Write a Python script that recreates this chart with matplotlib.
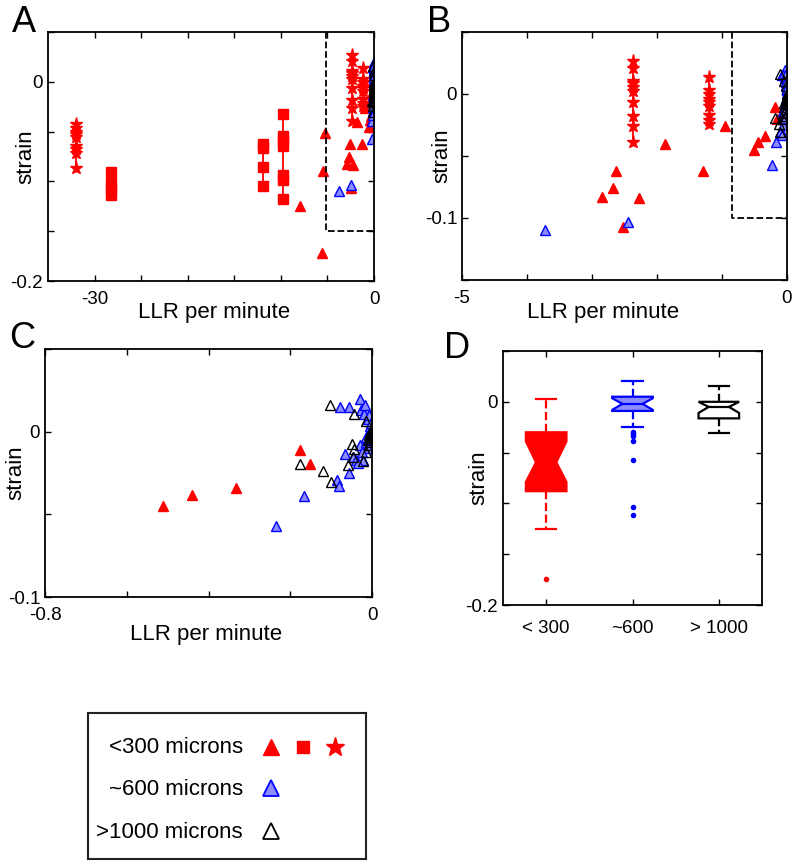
import numpy as np
import matplotlib.pyplot as plt

plt.rcParams['font.family'] = ['Liberation Sans', 'DejaVu Sans']

# ---- data ----
# red stars (<300 microns), one vertical series per recording
star_x = [-32.0, -2.37, -1.2]
star_y = [
    [-0.042, -0.046, -0.050, -0.052, -0.055, -0.064, -0.067, -0.071, -0.087],
    [0.027, 0.021, 0.0107, 0.0085, 0.006, 0.0027, -0.0067, -0.018, -0.026, -0.039],
    [0.014, 0.003, 0.0, -0.004, -0.0067, -0.0093, -0.017, -0.021, -0.0245],
]

# red squares (<300 microns)
square_x = [-28.2, -11.9, -9.8]
square_y = [
    [-0.091, -0.102, -0.107, -0.114],
    [-0.062, -0.066, -0.086, -0.105],
    [-0.032, -0.054, -0.059, -0.064, -0.094, -0.099, -0.118],
]

# red triangles (<300 microns)
red_tri_x = [-7.9, -5.3, -5.5, -5.6, -2.63, -2.67, -2.85, -2.28, -2.52, -1.87,
             -1.30, -0.96, -0.511, -0.44, -0.332, -0.177, -0.152]
red_tri_y = [-0.125, -0.051, -0.090, -0.172, -0.062, -0.076, -0.083, -0.084, -0.107,
             -0.0405, -0.062, -0.026, -0.045, -0.0385, -0.034, -0.0108, -0.0198]

# blue triangles (~600 microns)
blue_x = [-3.73, -2.45, -0.235, -0.167, -0.086, -0.081, -0.056, -0.065, -0.046, -0.030,
          -0.079, -0.056, -0.026, -0.014, -0.020, -0.0098, -0.0057, -0.004, -0.030, -0.015,
          -0.014, -0.040, -0.022, -0.0057, -0.018, -0.008, -0.003, -0.010, -0.025, -0.035]
blue_y = [-0.110, -0.1035, -0.057, -0.039, -0.0295, -0.033, -0.025, -0.0134, -0.0154, 0.0196,
          0.015, 0.015, 0.013, 0.0136, 0.0106, 0.0076, 0.0036, 0.0006, -0.0078, -0.0064,
          -0.0034, -0.0174, -0.017, -0.0044, 0.016, 0.010, 0.005, -0.010, -0.012, -0.019]

# black open triangles (>1000 microns)
black_x = [-0.103, -0.045, -0.014, -0.049, -0.045, -0.177, -0.121, -0.101, -0.059, -0.015,
           -0.022, -0.046, -0.007, -0.004, -0.006, -0.003, -0.008, -0.002, -0.005, -0.010]
black_y = [0.016, 0.0106, 0.0066, -0.0074, -0.0104, -0.0194, -0.0238, -0.0305, -0.0204, -0.0124,
           -0.0178, -0.0154, -0.002, -0.004, -0.006, -0.001, -0.008, -0.003, 0.0, -0.005]

# panel D box summaries
box_labels = ['< 300', '~600', '> 1000']
box_med = [-0.0595, -0.002, -0.005]
box_q1 = [-0.088, -0.009, -0.0163]
box_q3 = [-0.030, 0.005, 0.0]
box_cilo = [-0.079, -0.008, -0.011]
box_cihi = [-0.039, 0.0035, 0.0]
box_whislo = [-0.125, -0.025, -0.031]
box_whishi = [0.003, 0.020, 0.0157]
box_fliers = [[-0.174],
              [-0.0295, -0.032, -0.034, -0.039, -0.057, -0.1035, -0.111],
              []]

legend_labels = ['<300 microns', '~600 microns', '>1000 microns']

BLUE_FILL = (0.55, 0.55, 1.0)


def style_axes(ax, xt, xl, yt, yl, xpad=7, ypad=3.5):
    ax.set_xticks(xt)
    ax.set_xticklabels(xl)
    ax.set_yticks(yt)
    ax.set_yticklabels(yl)
    ax.tick_params(direction='in', top=True, right=True, length=4, width=1,
                   labelsize=13.5)
    ax.tick_params(axis='x', pad=xpad)
    ax.tick_params(axis='y', pad=ypad)
    for s in ax.spines.values():
        s.set_linewidth(1.3)


def draw_scatter(ax):
    for x, ys in zip(star_x, star_y):
        ax.plot([x] * len(ys), ys, '-*', color='r', ms=9.5, lw=1.3)
    for x, ys in zip(square_x, square_y):
        ax.plot([x] * len(ys), ys, '-s', color='r', ms=6.5, lw=1.3)
    ax.plot(red_tri_x, red_tri_y, '^', color='r', ms=7.5, ls='none')
    ax.plot(blue_x, blue_y, '^', mfc=BLUE_FILL, mec='b', ms=7, mew=1, ls='none')
    ax.plot(black_x, black_y, '^', mfc='none', mec='k', ms=7, mew=1, ls='none')


fig = plt.figure(figsize=(8, 8.65), dpi=100)

# ---- A ----
ax_a = fig.add_axes([48 / 800, 1 - 281 / 865, 326 / 800, 249 / 865])
draw_scatter(ax_a)
ax_a.plot([-5.1, -5.1, 0], [0.05, -0.15, -0.15], 'k--', lw=1.3)
ax_a.set_xlim(-35, 0)
ax_a.set_ylim(-0.2, 0.05)
style_axes(ax_a, [-30, -25, -20, -15, -10, -5, 0], ['-30', '', '', '', '', '', '0'],
           [-0.2, -0.15, -0.1, -0.05, 0, 0.05], ['-0.2', '', '', '', '0', ''])
ax_a.set_xlabel('LLR per minute', fontsize=16)
ax_a.set_ylabel('strain', fontsize=16)
ax_a.xaxis.set_label_coords(0.508, -0.084)
ax_a.yaxis.set_label_coords(-0.035, 0.5)

# ---- B ----
ax_b = fig.add_axes([462 / 800, 1 - 280 / 865, 325 / 800, 248 / 865])
draw_scatter(ax_b)
ax_b.plot([-0.85, -0.85, 0], [0.05, -0.1, -0.1], 'k--', lw=1.3)
ax_b.set_xlim(-5, 0)
ax_b.set_ylim(-0.15, 0.05)
style_axes(ax_b, [-5, -4, -3, -2, -1, 0], ['-5', '', '', '', '', '0'],
           [-0.15, -0.1, -0.05, 0, 0.05], ['', '-0.1', '', '0', ''])
ax_b.set_xlabel('LLR per minute', fontsize=16)
ax_b.set_ylabel('strain', fontsize=16)
ax_b.xaxis.set_label_coords(0.435, -0.089)
ax_b.yaxis.set_label_coords(-0.029, 0.5)

# ---- C ----
ax_c = fig.add_axes([45 / 800, 1 - 597 / 865, 327 / 800, 248 / 865])
draw_scatter(ax_c)
ax_c.set_xlim(-0.8, 0)
ax_c.set_ylim(-0.1, 0.05)
style_axes(ax_c, [-0.8, -0.6, -0.4, -0.2, 0], ['-0.8', '', '', '', '0'],
           [-0.1, -0.05, 0, 0.05], ['-0.1', '', '0', ''])
ax_c.set_xlabel('LLR per minute', fontsize=16)
ax_c.set_ylabel('strain', fontsize=16)
ax_c.xaxis.set_label_coords(0.494, -0.109)
ax_c.yaxis.set_label_coords(-0.056, 0.5)

# ---- D ----
ax_d = fig.add_axes([503 / 800, 1 - 605 / 865, 259 / 800, 254 / 865])
stats = []
for i in range(3):
    stats.append(dict(med=box_med[i], q1=box_q1[i], q3=box_q3[i],
                      cilo=box_cilo[i], cihi=box_cihi[i],
                      whislo=box_whislo[i], whishi=box_whishi[i],
                      fliers=box_fliers[i], label=box_labels[i]))
bp = ax_d.bxp(stats, positions=[1, 2, 3], widths=0.47, shownotches=True,
              patch_artist=True,
              boxprops=dict(lw=1.6), whiskerprops=dict(ls='--', lw=1.6),
              capprops=dict(lw=1.6), medianprops=dict(lw=1.6),
              flierprops=dict(marker='.', ms=6, ls='none'))
fills = ['r', BLUE_FILL, 'w']
edges = ['r', 'b', 'k']
for i in range(3):
    bp['boxes'][i].set_facecolor(fills[i])
    bp['boxes'][i].set_edgecolor(edges[i])
    for ln in bp['whiskers'][2 * i:2 * i + 2] + bp['caps'][2 * i:2 * i + 2]:
        ln.set_color(edges[i])
    bp['medians'][i].set_color(edges[i])
    bp['fliers'][i].set_markerfacecolor(edges[i])
    bp['fliers'][i].set_markeredgecolor(edges[i])
ax_d.set_xlim(0.5, 3.5)
ax_d.set_ylim(-0.2, 0.05)
style_axes(ax_d, [1, 2, 3], box_labels,
           [-0.2, -0.15, -0.1, -0.05, 0, 0.05], ['-0.2', '', '', '', '0', ''],
           xpad=11)
ax_d.set_ylabel('strain', fontsize=16)
ax_d.yaxis.set_label_coords(-0.051, 0.5)

# ---- panel letters ----
for letter, (px, py) in zip('ABCD', [(12, 32), (427, 32), (9, 348), (444, 358)]):
    fig.text(px / 800, 1 - py / 865, letter, fontsize=26, ha='left', va='baseline')

# ---- legend box ----
ax_l = fig.add_axes([88 / 800, 6 / 865, 278 / 800, 146 / 865])
ax_l.set_xlim(0, 1)
ax_l.set_ylim(0, 1)
ax_l.set_xticks([])
ax_l.set_yticks([])
for s in ax_l.spines.values():
    s.set_linewidth(1.5)
    s.set_color('#222222')
text_base = [0.724, 0.438, 0.146]
marker_row = [0.767, 0.486, 0.192]
for lab, yb in zip(legend_labels, text_base):
    ax_l.text(0.5576, yb, lab, fontsize=16, ha='right', va='baseline')
ax_l.plot([0.658], [marker_row[0]], '^', color='r', ms=11)
ax_l.plot([0.773], [marker_row[0]], 's', color='r', ms=8.5)
ax_l.plot([0.888], [marker_row[0]], '*', color='r', ms=14)
ax_l.plot([0.658], [marker_row[1]], '^', mfc=BLUE_FILL, mec='b', mew=1.3, ms=11)
ax_l.plot([0.658], [marker_row[2]], '^', mfc='none', mec='k', mew=1.3, ms=11)

fig.savefig('out.png', dpi=100)
